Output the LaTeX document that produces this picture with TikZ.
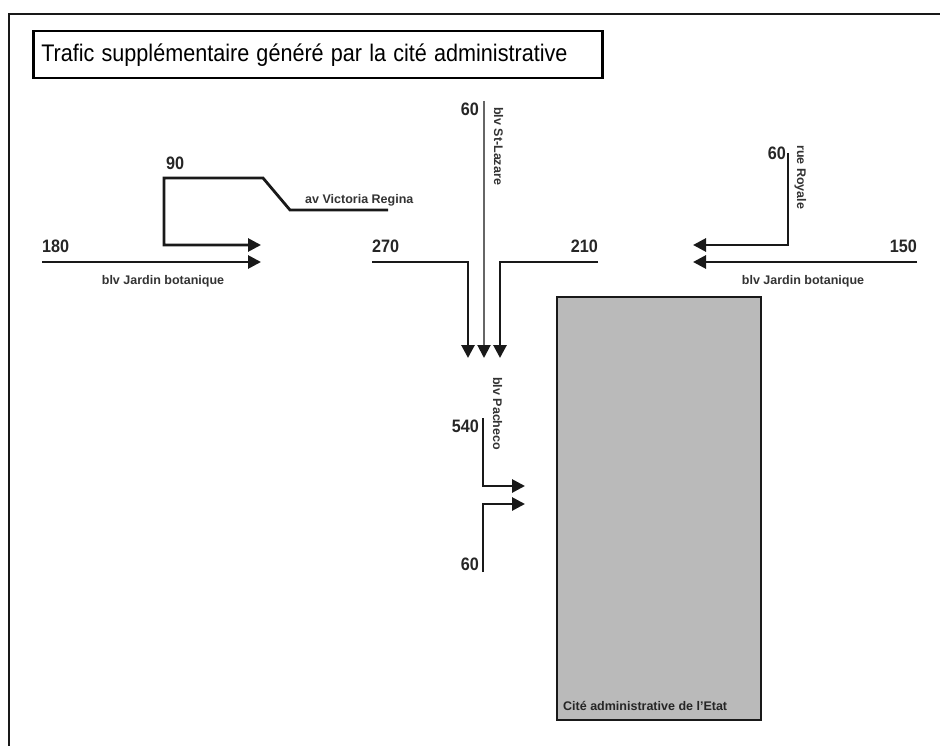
\documentclass[tikz,border=0pt]{standalone}
\usepackage{fontspec}
\setmainfont{Liberation Sans}
\usetikzlibrary{arrows.meta}

\tikzset{
  road/.style={line width=2.8pt, draw=black!90},
  flow/.style={road, -{Triangle[length=13pt,width=13pt,color=black!90]}},
  num/.style={font=\fontsize{18}{18}\selectfont\bfseries, inner sep=0pt, text=black!85},
  street/.style={font=\fontsize{12.5}{13}\selectfont\bfseries, inner sep=0pt, text=black!80},
}
\newcommand{\narrow}[1]{\scalebox{0.9}[1]{#1}}

\begin{document}
\begin{tikzpicture}[x=1pt, y=-1pt, line join=miter]

\useasboundingbox (0,0) rectangle (940,746);

% Cadre
\draw[road] (9,746) -- (9,14) -- (940,14);
\node[draw, line width=2.5pt, anchor=north west, inner xsep=8pt, text width=553pt,
      minimum height=47pt, align=left, font=\fontsize{24}{24}\selectfont]
  (titre) at (32,30) {\narrow{Trafic supplémentaire généré par la cité administrative}};

% Cité administrative
\draw[road, fill=black!27!white] (557,297) rectangle (761,720);
\node[street, anchor=base west, text=black!85] (cite) at (563,710) {Cité administrative de l'Etat};

% Gauche : blv Jardin botanique et av Victoria Regina
\draw[flow] (42,262) -- (261,262);
\draw[flow] (388,210) -- (290,210) -- (263,178) -- (164,178) -- (164,245) -- (261,245);
\node[num, anchor=base west] (n180) at (42,253) {\narrow{180}};
\node[num, anchor=base west] (n90) at (166,170) {\narrow{90}};
\node[street, anchor=base west] (victoria) at (305,204) {av Victoria Regina};
\node[street, anchor=base] (jardinG) at (163,284) {blv Jardin botanique};

% Centre : blv St-Lazare
\draw[flow, line width=2pt, draw=black!60] (484,101) -- (484,358);
\draw[flow] (372,262) -- (468,262) -- (468,358);
\draw[flow] (598,262) -- (500,262) -- (500,358);
\node[num, anchor=base east] (n60a) at (479,116) {\narrow{60}};
\node[num, anchor=base west] (n270) at (372,253) {\narrow{270}};
\node[num, anchor=base east] (n210) at (598,253) {\narrow{210}};
\node[street, rotate=-90, anchor=base west] (lazare) at (494,107) {blv St-Lazare};

% Droite : rue Royale et blv Jardin botanique
\draw[flow] (788,153) -- (788,245) -- (693,245);
\draw[flow] (917,262) -- (693,262);
\node[num, anchor=base east] (n60b) at (786,160) {\narrow{60}};
\node[num, anchor=base east] (n150) at (917,253) {\narrow{150}};
\node[street, rotate=-90, anchor=base west] (royale) at (797,145) {rue Royale};
\node[street, anchor=base] (jardinD) at (803,284) {blv Jardin botanique};

% Bas : blv Pacheco
\draw[flow] (483,418) -- (483,486) -- (525,486);
\draw[flow] (483,572) -- (483,504) -- (525,504);
\node[num, anchor=base east] (n540) at (479,432) {\narrow{540}};
\node[num, anchor=base east] (n60c) at (479,570) {\narrow{60}};
\node[street, rotate=-90, anchor=base west] (pacheco) at (493,377) {blv Pacheco};

\end{tikzpicture}
\end{document}
